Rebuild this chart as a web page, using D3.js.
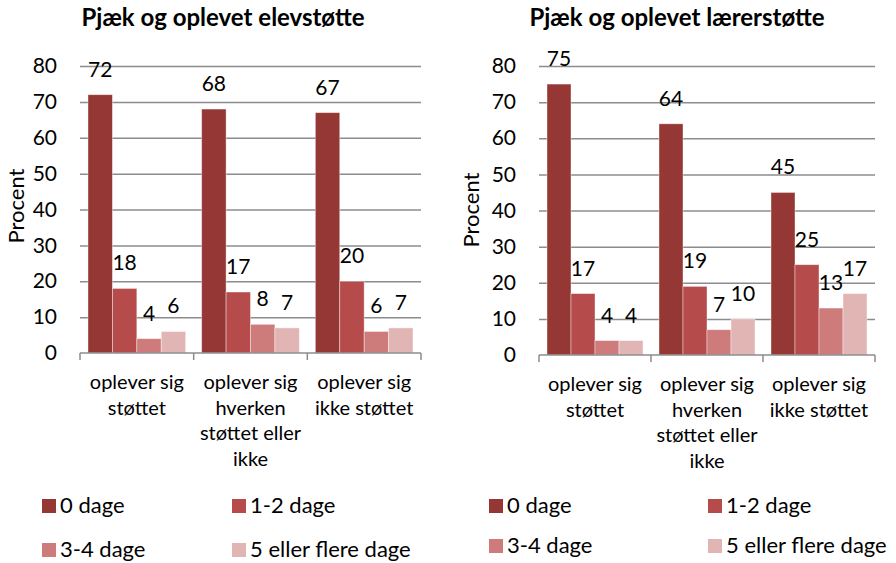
<!DOCTYPE html>
<html>
<head>
<meta charset="utf-8">
<script src="https://cdn.jsdelivr.net/npm/d3@7"></script>
<style>
  body { margin: 0; background: #fff; }
  text { font-family: Lato, "Open Sans", sans-serif; fill: #000; }
</style>
</head>
<body>
<div id="chart"></div>
<script>
// data
var categories = ["oplever sig støttet", "oplever sig hverken støttet eller ikke", "oplever sig ikke støttet"];
var categoryLines = [["oplever sig", "støttet"], ["oplever sig", "hverken", "støttet eller", "ikke"], ["oplever sig", "ikke støttet"]];
var series = ["0 dage", "1-2 dage", "3-4 dage", "5 eller flere dage"];
var elevValues = [[72, 18, 4, 6], [68, 17, 8, 7], [67, 20, 6, 7]];
var laererValues = [[75, 17, 4, 4], [64, 19, 7, 10], [45, 25, 13, 17]];
var yTicks = [0, 10, 20, 30, 40, 50, 60, 70, 80];
var colors = ["#953735", "#b54b4a", "#cd7c7b", "#e2b5b5"];

var svg = d3.select("#chart").append("svg")
    .attr("width", 896)
    .attr("height", 563);

function drawChart(o) {
    var g = svg.append("g");

    var x0 = d3.scaleBand().domain(categories).range([o.left, o.right]).padding(0);
    var x1 = d3.scaleBand().domain(series).range([8, x0.bandwidth() - 8]).padding(0);
    var y = d3.scaleLinear().domain([0, 80]).range([o.bottom, o.top]);
    var color = d3.scaleOrdinal().domain(series).range(colors);

    // title
    g.append("text")
        .attr("x", o.titleX)
        .attr("y", 26)
        .attr("text-anchor", "middle")
        .style("font-size", "24px")
        .style("font-weight", "bold")
        .text(o.title);

    // gridlines
    g.append("g")
        .attr("transform", "translate(" + o.left + ",0)")
        .call(d3.axisLeft(y).tickValues(yTicks.slice(1)).tickSize(-(o.right - o.left)).tickFormat(""))
        .call(function(a) { a.select(".domain").remove(); })
        .selectAll("line")
            .attr("stroke", "#8c8c8c")
            .attr("stroke-width", 1.5);

    // y tick labels
    g.append("g")
        .attr("transform", "translate(" + (o.left - 23) + ",0)")
        .call(d3.axisLeft(y).tickValues(yTicks).tickSize(0).tickPadding(0))
        .call(function(a) { a.select(".domain").remove(); })
        .selectAll("text")
            .style("font-size", "21px")
            .style("font-family", "Lato, 'Open Sans', sans-serif");

    // y title
    g.append("text")
        .attr("transform", "translate(" + o.yTitleX + "," + o.yTitleY + ") rotate(-90)")
        .attr("text-anchor", "middle")
        .style("font-size", "22px")
        .text("Procent");

    // bars
    var groups = g.append("g")
        .selectAll("g")
        .data(o.values)
        .enter()
        .append("g")
            .attr("transform", function(d, i) { return "translate(" + x0(categories[i]) + ",0)"; });

    groups.selectAll("rect")
        .data(function(d) { return d.map(function(v, j) { return {key: series[j], value: v}; }); })
        .enter()
        .append("rect")
            .attr("x", function(d) { return x1(d.key); })
            .attr("y", function(d) { return y(d.value); })
            .attr("width", x1.bandwidth())
            .attr("height", function(d) { return y(0) - y(d.value); })
            .attr("fill", function(d) { return color(d.key); })
            .attr("stroke", "rgba(255,255,255,0.5)")
            .attr("stroke-width", 0.8);

    groups.selectAll("text.lbl")
        .data(function(d) { return d.map(function(v, j) { return {key: series[j], value: v}; }); })
        .enter()
        .append("text")
            .attr("class", "lbl")
            .attr("x", function(d) { return x1(d.key) + x1.bandwidth() / 2; })
            .attr("y", function(d) { return y(d.value) - 18; })
            .attr("text-anchor", "middle")
            .style("font-size", "21px")
            .text(function(d) { return d.value; });

    // x axis line + category ticks
    var axis = g.append("g");
    axis.append("line")
        .attr("x1", o.left).attr("x2", o.right)
        .attr("y1", y(0)).attr("y2", y(0))
        .attr("stroke", "#8c8c8c")
        .attr("stroke-width", 1.5);
    var bounds = categories.map(function(c) { return x0(c); }).concat([o.right]);
    axis.selectAll("line.tick")
        .data(bounds)
        .enter()
        .append("line")
            .attr("class", "tick")
            .attr("x1", function(d) { return d; }).attr("x2", function(d) { return d; })
            .attr("y1", y(0)).attr("y2", y(0) + 7)
            .attr("stroke", "#8c8c8c")
            .attr("stroke-width", 1.5);

    // category labels
    axis.selectAll("text.cat")
        .data(categoryLines)
        .enter()
        .append("text")
            .attr("class", "cat")
            .attr("text-anchor", "middle")
            .style("font-size", "20px")
            .each(function(lines, i) {
                var t = d3.select(this);
                lines.forEach(function(l, k) {
                    t.append("tspan")
                        .attr("x", x0(categories[i]) + x0.bandwidth() / 2)
                        .attr("y", y(0) + 36 + k * 25.5)
                        .text(l);
                });
            });

    // legend
    var leg = g.append("g")
        .selectAll("g")
        .data(series)
        .enter()
        .append("g")
            .attr("transform", function(d, i) {
                return "translate(" + o.legendX[i % 2] + "," + o.legendY[Math.floor(i / 2)] + ")";
            });
    leg.append("rect")
        .attr("width", 14)
        .attr("height", 14)
        .attr("fill", function(d) { return color(d); });
    leg.append("text")
        .attr("x", 18)
        .attr("y", 14)
        .style("font-size", "22px")
        .text(function(d) { return d; });
}

drawChart({
    title: "Pjæk og oplevet elevstøtte",
    values: elevValues,
    left: 80, right: 421, top: 66, bottom: 353,
    titleX: 223, yTitleX: 24, yTitleY: 206,
    legendX: [42, 232], legendY: [499, 543]
});

drawChart({
    title: "Pjæk og oplevet lærerstøtte",
    values: laererValues,
    left: 539, right: 875, top: 66, bottom: 355,
    titleX: 677, yTitleX: 479, yTitleY: 210,
    legendX: [489, 708], legendY: [499, 539]
});
</script>
</body>
</html>
